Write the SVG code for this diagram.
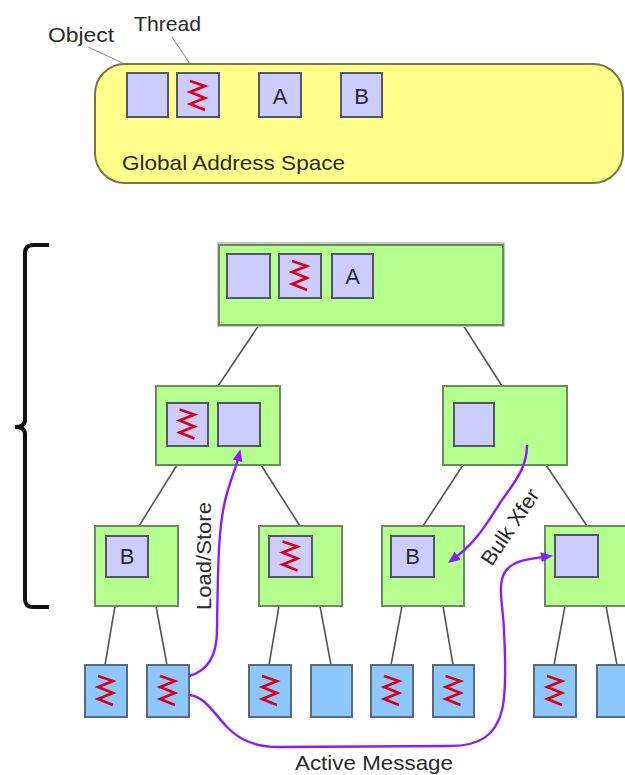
<svg xmlns="http://www.w3.org/2000/svg" xmlns:xlink="http://www.w3.org/1999/xlink" width="625" height="775" viewBox="0 0 625 775">
<style>
text{font-family:"Liberation Sans",Arial,sans-serif;font-size:21px;fill:#2a2a2a}
.lbl{font-size:22px;text-anchor:middle}
.node{fill:#b5ff8e;stroke:#6a8a60;stroke-width:2}
.sh{fill:none;stroke:#c8c8c8;stroke-width:2}
.obj{fill:#ccccff;stroke:#55556a;stroke-width:2}
.leaf{fill:#8cc8ff;stroke:#5a6a78;stroke-width:2}
.zz{fill:none;stroke:#dd0011;stroke-width:2.6;stroke-linejoin:miter}
.edge{fill:none;stroke:#555;stroke-width:1.6}
.lead{fill:none;stroke:#888;stroke-width:1}
.msg{fill:none;stroke:#8a1cff;stroke-width:2.4}
</style>
<defs>
<path id="zig" d="M-8,-15 L7,-10 L-8,-4 L7,2 L-8,8 L7,14"/>
<marker id="ah" markerUnits="userSpaceOnUse" markerWidth="14" markerHeight="12" refX="2" refY="5" orient="auto">
<path d="M0,0 L12,5 L0,10 z" fill="#8a1cff"/>
</marker>
</defs>

<g id="brace">
<path d="M49,245 L33,245 Q25,245 25,253 L25,420 Q25,427 15,427 Q25,427 25,434 L25,599 Q25,607 33,607 L49,607" fill="none" stroke="#111" stroke-width="4"/>
</g>

<g id="legend">
<line class="lead" x1="88" y1="47" x2="144" y2="73"/>
<line class="lead" x1="172" y1="37" x2="196" y2="73"/>
<text x="48" y="42" textLength="66" lengthAdjust="spacingAndGlyphs">Object</text>
<text x="134" y="31" textLength="67" lengthAdjust="spacingAndGlyphs">Thread</text>
</g>

<g id="global-address-space">
<rect x="95" y="64" width="528" height="119" rx="30" fill="#ffff8c" stroke="#77773f" stroke-width="2"/>
<rect class="obj" x="127" y="73" width="41" height="44"/>
<rect class="obj" x="177" y="73" width="42" height="44"/>
<use xlink:href="#zig" class="zz" x="198" y="96"/>
<rect class="obj" x="259" y="73" width="42" height="44"/>
<text class="lbl" x="280" y="104">A</text>
<rect class="obj" x="341" y="73" width="41" height="44"/>
<text class="lbl" x="361.5" y="104">B</text>
<text x="122" y="170" textLength="223" lengthAdjust="spacingAndGlyphs">Global Address Space</text>
</g>

<g id="connectors">
<line class="edge" x1="259" y1="325" x2="218" y2="386"/>
<line class="edge" x1="463" y1="325" x2="502" y2="386"/>
<line class="edge" x1="177" y1="465" x2="139" y2="526"/>
<line class="edge" x1="261" y1="465" x2="300" y2="526"/>
<line class="edge" x1="463" y1="465" x2="423" y2="526"/>
<line class="edge" x1="546" y1="465" x2="587" y2="526"/>
<line class="edge" x1="115" y1="606" x2="105" y2="665"/>
<line class="edge" x1="156" y1="606" x2="167" y2="665"/>
<line class="edge" x1="279" y1="606" x2="269" y2="665"/>
<line class="edge" x1="320" y1="606" x2="331" y2="665"/>
<line class="edge" x1="402" y1="606" x2="391" y2="665"/>
<line class="edge" x1="443" y1="606" x2="453" y2="665"/>
<line class="edge" x1="565" y1="606" x2="554" y2="665"/>
<line class="edge" x1="606" y1="606" x2="617" y2="665"/>
</g>

<g id="root">
<rect class="sh" x="218" y="243" width="286" height="83"/>
<rect class="node" x="219" y="245" width="284" height="80"/>
<rect class="obj" x="227" y="254" width="43" height="44"/>
<rect class="obj" x="279" y="254" width="42" height="44"/>
<use xlink:href="#zig" class="zz" x="300" y="276"/>
<rect class="obj" x="332" y="254" width="41" height="44"/>
<text class="lbl" x="352.5" y="284">A</text>
</g>

<g id="mid-left">
<rect class="node" x="156" y="386" width="124" height="79"/>
<rect class="obj" x="167" y="403" width="41" height="43"/>
<use xlink:href="#zig" class="zz" x="187.5" y="424.5"/>
<rect class="obj" x="218" y="403" width="42" height="43"/>
</g>

<g id="mid-right">
<rect class="node" x="443" y="386" width="124" height="79"/>
<rect class="obj" x="454" y="403" width="40" height="43"/>
</g>

<g id="l3-a">
<rect class="node" x="95" y="526" width="83" height="80"/>
<rect class="obj" x="106" y="536" width="42" height="41"/>
<text class="lbl" x="127" y="564">B</text>
</g>
<g id="l3-b">
<rect class="node" x="259" y="526" width="83" height="80"/>
<rect class="obj" x="269" y="536" width="43" height="41"/>
<use xlink:href="#zig" class="zz" x="290.5" y="556.5"/>
</g>
<g id="l3-c">
<rect class="node" x="382" y="526" width="82" height="80"/>
<rect class="obj" x="391" y="536" width="43" height="41"/>
<text class="lbl" x="412.5" y="564">B</text>
</g>
<g id="l3-d">
<rect class="node" x="545" y="526" width="82" height="80"/>
<rect class="obj" x="555" y="535" width="43" height="42"/>
</g>

<g id="leaf-1"><rect class="leaf" x="85" y="665" width="42" height="52"/><use xlink:href="#zig" class="zz" x="106" y="691"/></g>
<g id="leaf-2"><rect class="leaf" x="147" y="665" width="42" height="52"/><use xlink:href="#zig" class="zz" x="168" y="691"/></g>
<g id="leaf-3"><rect class="leaf" x="249" y="665" width="42" height="52"/><use xlink:href="#zig" class="zz" x="270" y="691"/></g>
<g id="leaf-4"><rect class="leaf" x="311" y="665" width="41" height="52"/></g>
<g id="leaf-5"><rect class="leaf" x="371" y="665" width="42" height="52"/><use xlink:href="#zig" class="zz" x="392" y="691"/></g>
<g id="leaf-6"><rect class="leaf" x="433" y="665" width="41" height="52"/><use xlink:href="#zig" class="zz" x="453.5" y="691"/></g>
<g id="leaf-7"><rect class="leaf" x="534" y="665" width="42" height="52"/><use xlink:href="#zig" class="zz" x="555" y="691"/></g>
<g id="leaf-8"><rect class="leaf" x="597" y="665" width="42" height="52"/></g>

<g id="messages">
<path class="msg" marker-end="url(#ah)" d="M189,676 C208,671 217,656 217,630 C218,565 218,520 228,490 C232,476 236,467 238,459"/>
<text transform="translate(211,556) rotate(-90)" text-anchor="middle" textLength="108" lengthAdjust="spacingAndGlyphs">Load/Store</text>
<path class="msg" marker-end="url(#ah)" d="M527,445 C527,470 512,485 500,503 C488,522 476,542 456,557"/>
<text transform="translate(516,531) rotate(-56)" text-anchor="middle" textLength="87" lengthAdjust="spacingAndGlyphs">Bulk Xfer</text>
<path class="msg" marker-end="url(#ah)" d="M189,695 C205,696 215,715 228,728 C240,740 255,747 280,747 L450,746 C480,746 496,735 502,710 C507,690 505,650 504,630 C503,605 497,585 505,572 C512,561 528,559 543,557"/>
<text x="374" y="770" text-anchor="middle" textLength="158" lengthAdjust="spacingAndGlyphs">Active Message</text>
</g>
</svg>
